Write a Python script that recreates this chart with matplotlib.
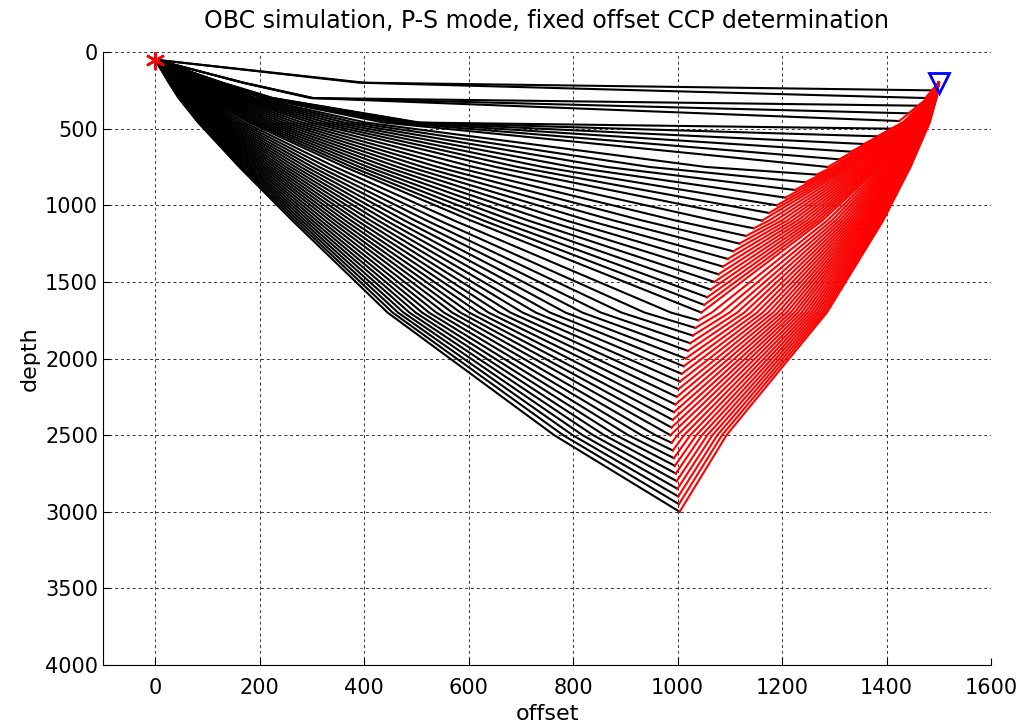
import numpy as np
import matplotlib.pyplot as plt

plt.rcParams['font.family'] = ['DejaVu Sans']

# shot and receiver (OBC: receiver on the sea floor)
src_x, src_z = 0.0, 50.0
rec_x, rec_z = 1500.0, 200.0

# layered velocity model (layer tops, P and S velocities)
layer_top = [0, 200, 300, 460, 750, 1100, 1700, 2500]
vp = [1500, 1600, 2000, 2300, 2450, 2550, 3250, 3800]
vs = [0, 400, 700, 1100, 1300, 1550, 2050, 1550]

# reflector depths where the P-S conversion happens
reflectors = [250, 300, 350, 400, 450, 500, 550, 600, 650, 700,
              750, 800, 850, 900, 950, 1000, 1050, 1100, 1150, 1200,
              1250, 1300, 1350, 1400, 1450, 1500, 1550, 1600, 1650, 1700,
              1750, 1800, 1850, 1900, 1950, 2000, 2050, 2100, 2150, 2200,
              2250, 2300, 2350, 2400, 2450, 2500, 2550, 2600, 2650, 2700,
              2750, 2800, 2850, 2900, 2950, 3000]

xticks = [0, 200, 400, 600, 800, 1000, 1200, 1400, 1600]
yticks = [0, 500, 1000, 1500, 2000, 2500, 3000, 3500, 4000]


def segments(za, zb):
    # split the depth interval [za, zb] at the layer boundaries
    cuts = [za] + [t for t in layer_top if za < t < zb] + [zb]
    out = []
    for a, b in zip(cuts[:-1], cuts[1:]):
        k = max(i for i, t in enumerate(layer_top) if t <= a)
        out.append((a, b, k))
    return out


def offsets(segs, vel, p):
    dx = []
    for a, b, k in segs:
        s = p * vel[k]
        if s >= 1:
            return None
        dx.append((b - a) * s / np.sqrt(1 - s * s))
    return dx


def trace(zr):
    pseg = segments(src_z, zr)
    sseg = segments(rec_z, zr)
    vmax = max([vp[k] for _, _, k in pseg] + [vs[k] for _, _, k in sseg])
    lo, hi = 0.0, 1.0 / vmax
    for _ in range(200):
        p = 0.5 * (lo + hi)
        dp = offsets(pseg, vp, p)
        ds = offsets(sseg, vs, p)
        if dp is None or ds is None or sum(dp) + sum(ds) > rec_x - src_x:
            hi = p
        else:
            lo = p
    dp = offsets(pseg, vp, lo)
    ds = offsets(sseg, vs, lo)
    px = src_x + np.concatenate([[0], np.cumsum(dp)])
    pz = [src_z] + [b for _, b, _ in pseg]
    sx = rec_x - np.concatenate([[0], np.cumsum(ds)])
    sz = [rec_z] + [b for _, b, _ in sseg]
    return px, pz, sx, sz


fig = plt.figure(figsize=(10.23, 7.28), dpi=100)
ax = fig.add_axes([0.1007, 0.0865, 0.868, 0.842])

rays = [trace(z) for z in reflectors]
for px, pz, sx, sz in rays:
    ax.plot(px, pz, color='k', lw=1.5, zorder=2)
for px, pz, sx, sz in rays:
    ax.plot(sx, sz, color='r', lw=1.5, zorder=3)

ax.plot(src_x, src_z, marker=(6, 2, 0), color='r', ms=14, mew=1.8, zorder=5)
ax.plot(rec_x, rec_z, marker='v', mfc='none', mec='b', ms=15, mew=2, zorder=5)

ax.set_xlim(-100, 1600)
ax.set_ylim(4000, 0)
ax.set_xticks(xticks)
ax.set_yticks(yticks)
ax.tick_params(direction='in', length=5, labelsize=15)
ax.tick_params(axis='x', pad=9)
ax.grid(True, color='k', ls=(0, (3, 3)), lw=0.7, alpha=0.8)
ax.spines['top'].set_visible(False)
ax.spines['right'].set_visible(False)
ax.set_xlabel('offset', fontsize=16, labelpad=5)
ax.set_ylabel('depth', fontsize=16, labelpad=4)
ax.set_title('OBC simulation, P-S mode, fixed offset CCP determination', fontsize=17, pad=17)

fig.savefig('out.png', dpi=100)
